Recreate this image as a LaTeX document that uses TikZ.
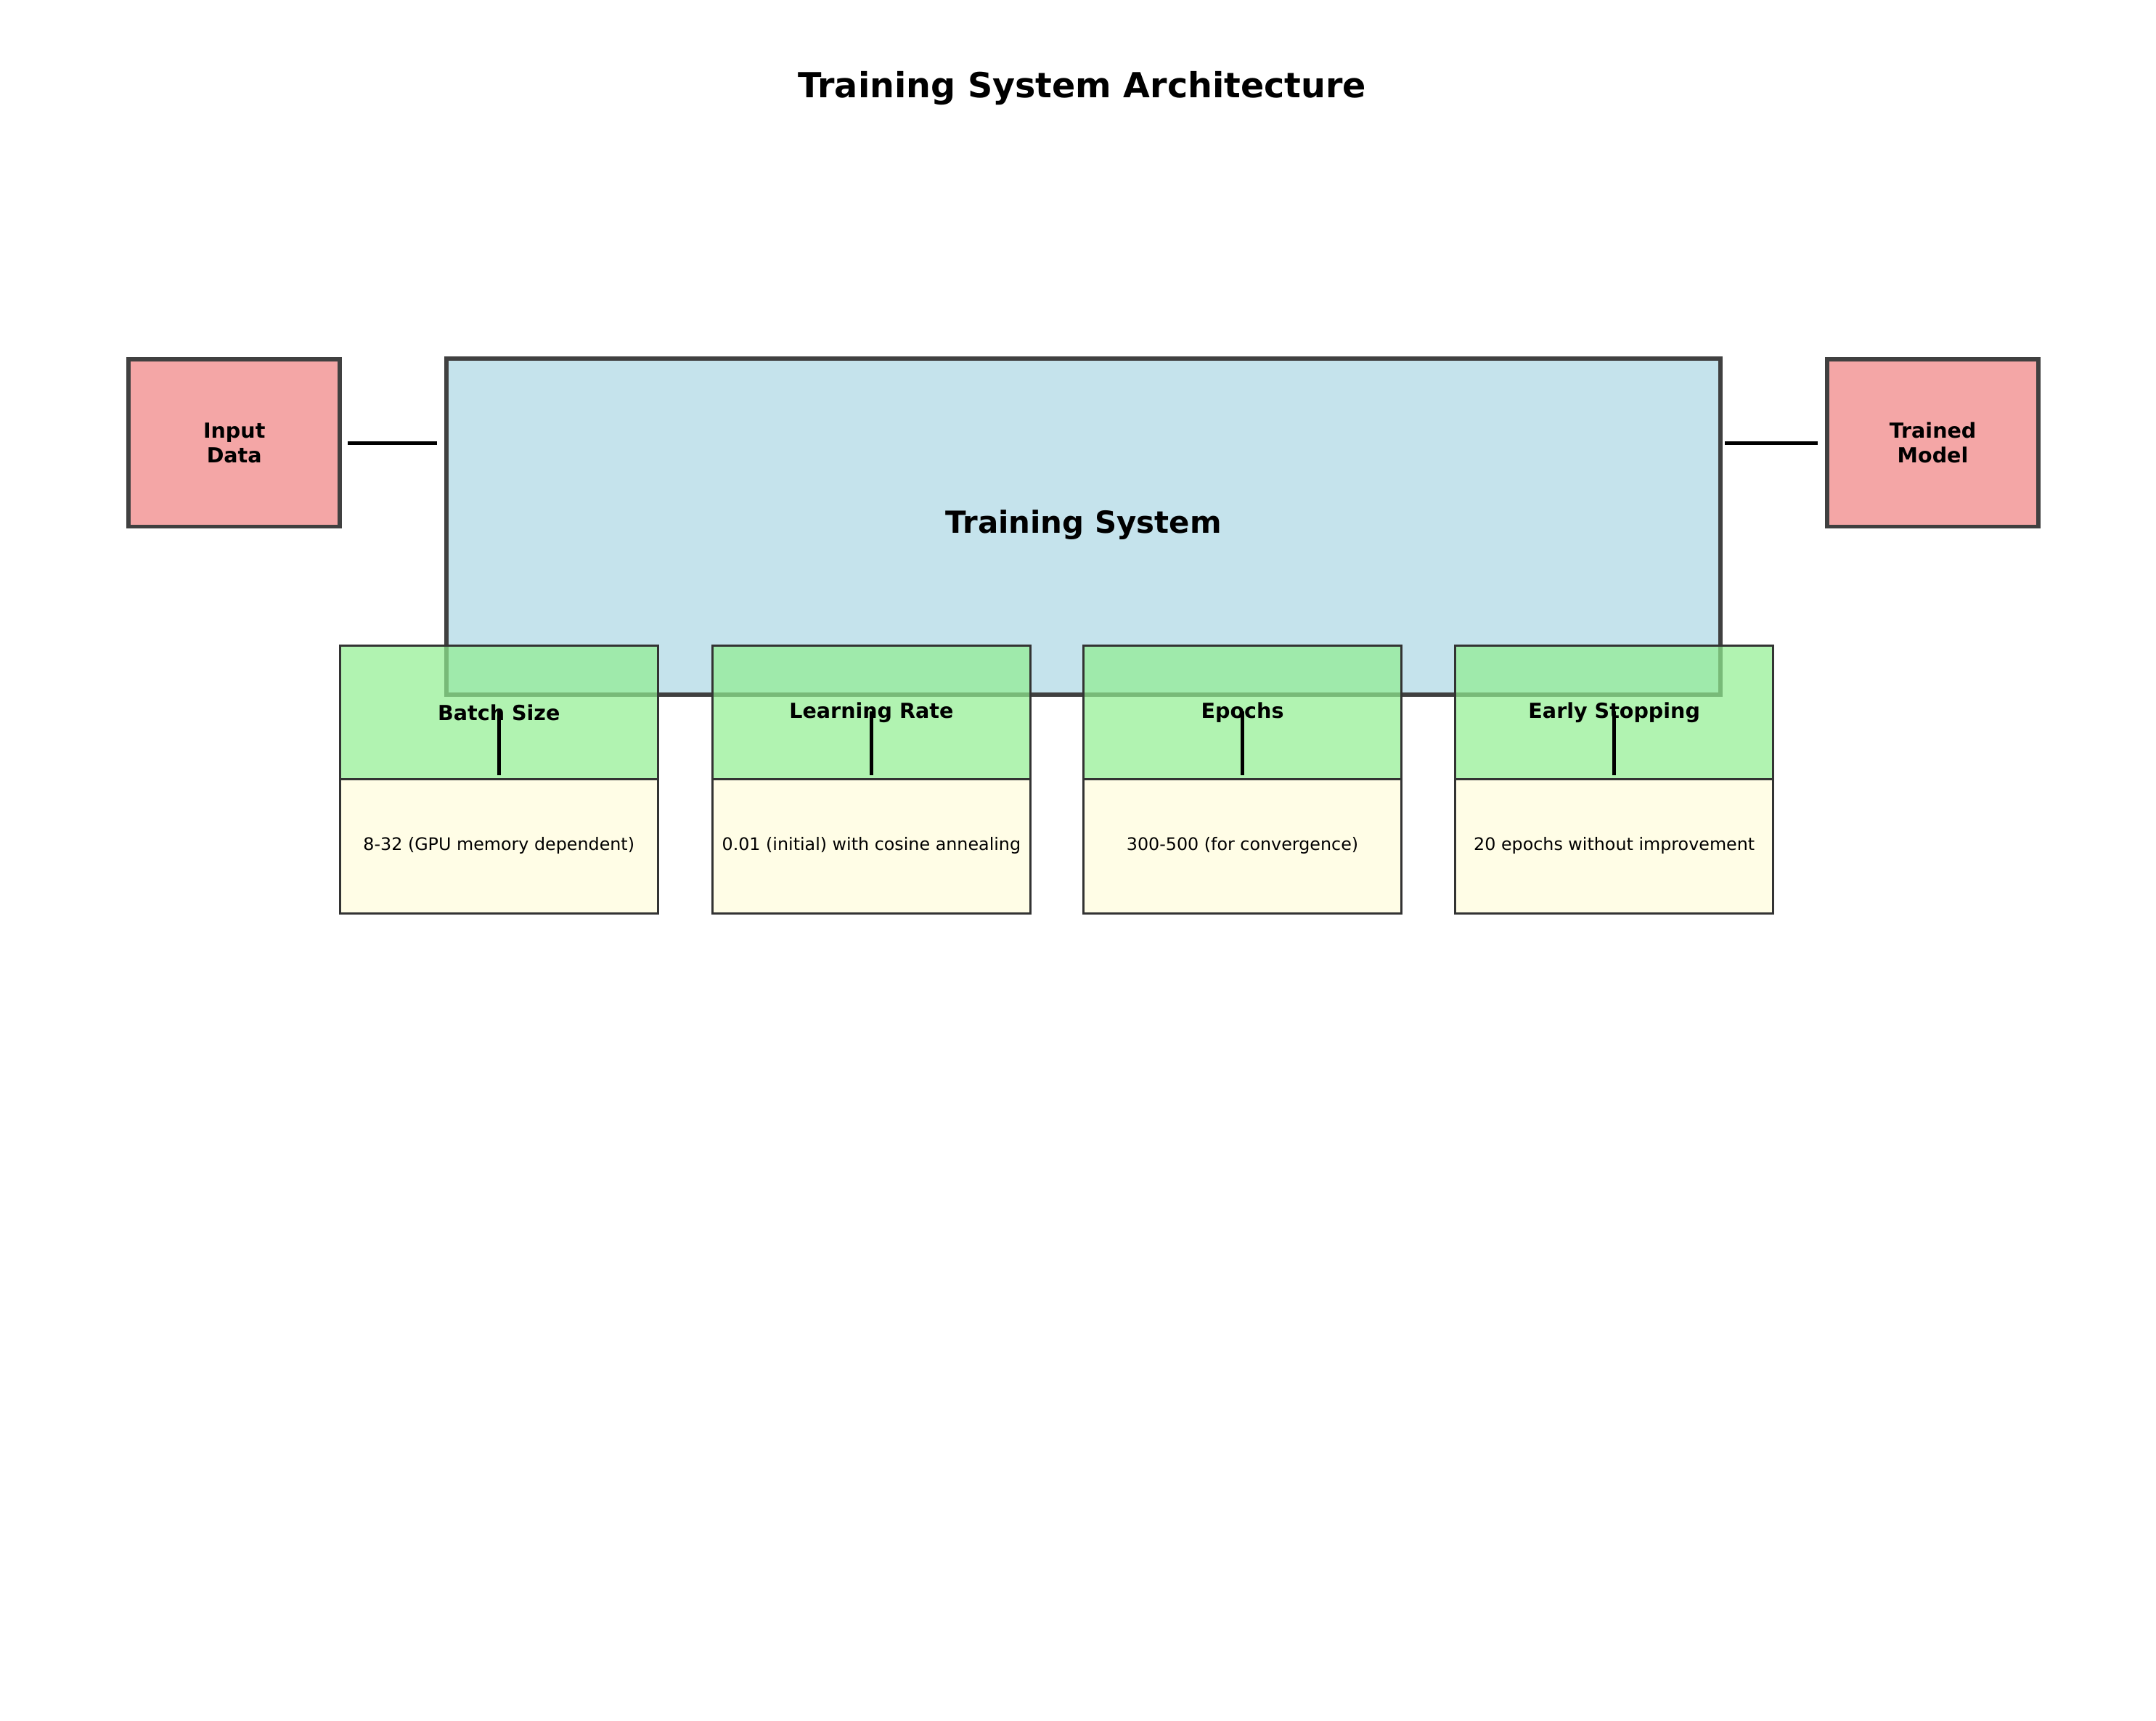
\documentclass[tikz,border=0pt]{standalone}
\usepackage{fontspec}
\setmainfont{DejaVu Sans}
\begin{document}
\begin{tikzpicture}[x=1pt,y=-1pt,
  io/.style={draw=black!75,line width=3pt,fill=red!70!black!40!white,fill=lightcoral,minimum width=153pt,minimum height=121pt,inner sep=0pt,align=center,font=\fontsize{15}{18}\selectfont\bfseries},
  param/.style={draw=black!80,line width=1.5pt,fill=lightgreen,fill opacity=0.7,text opacity=1,minimum width=230pt,minimum height=97pt,inner sep=0pt,font=\fontsize{15}{18}\selectfont\bfseries},
  val/.style={draw=black!80,line width=1.5pt,fill=lightyellow,minimum width=230pt,minimum height=97pt,inner sep=0pt},
  vtext/.style={font=\fontsize{12.5}{15}\selectfont,inner sep=0pt},
  conn/.style={line width=2.5pt,black}]
\definecolor{lightcoral}{HTML}{F4A6A6}
\definecolor{lightgreen}{HTML}{90EE90}
\definecolor{lightyellow}{HTML}{FFFDE6}
\definecolor{mainblue}{HTML}{C5E3EC}
\useasboundingbox (0,0) rectangle (1560,1245);
\node[font=\fontsize{25}{30}\selectfont\bfseries] (title) at (783,64) {Training System Architecture};
\node[io] (in) at (169.5,320.5) {Input\\Data};
\node[io] (out) at (1398.5,320.5) {Trained\\Model};
\node[draw=black!75,line width=3pt,fill=mainblue,minimum width=922pt,minimum height=243pt,inner sep=0pt] (main) at (784,381) {};
\node[font=\fontsize{22}{26}\selectfont\bfseries] (mt) at (784,380) {Training System};
\coordinate (a1) at (316,320.5);
\coordinate (a2) at (1315,320.5);
\draw[conn] (in.east)++(4,0) coordinate (s1) (s1) -- (a1);
\draw[conn] (1248,320.5) coordinate (s2) -- (a2);
\foreach \i/\x/\h/\v in {1/361/Batch Size/8-32 (GPU memory dependent),2/630.5/Learning Rate/0.01 (initial) with cosine annealing,3/899/Epochs/300-500 (for convergence),4/1168/Early Stopping/20 epochs without improvement}{
  \node[val] (v\i) at (\x,612.5) {};
  \node[param] (p\i) at (\x,515.5) {\h};
  \node[vtext] (vt\i) at (\x,612) {\v};
  \coordinate (pc\i) at (\x,515);
  \coordinate (vc\i) at (\x,561);
  \draw[conn] (pc\i) -- (vc\i);
}
\end{tikzpicture}
\end{document}
